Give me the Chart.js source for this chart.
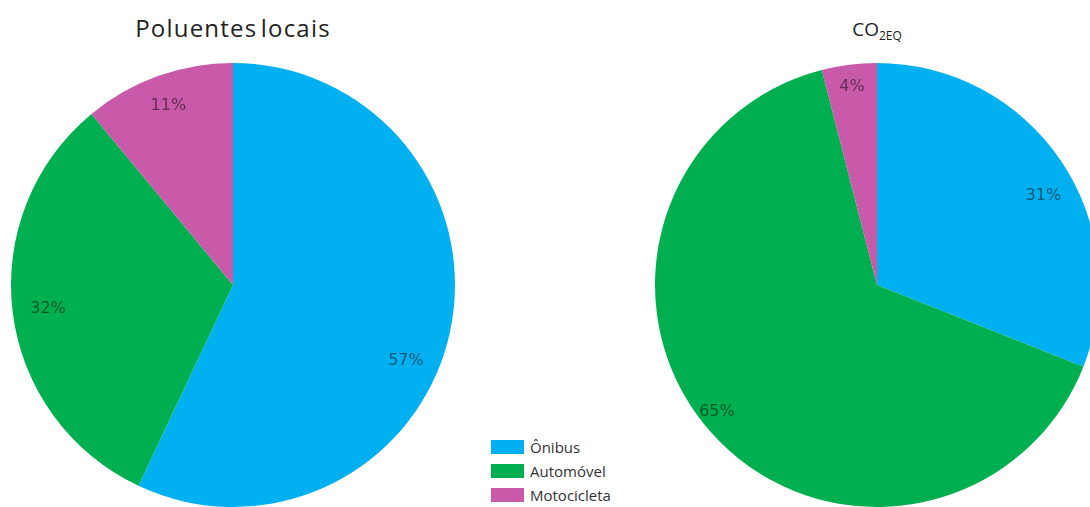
<!DOCTYPE html>
<html>
<head>
<meta charset="utf-8">
<script src="https://cdn.jsdelivr.net/npm/chart.js@4"></script>
<style>
  html, body { margin: 0; padding: 0; background: #fff; width: 1090px; height: 507px; overflow: hidden; }
  .title { position: absolute; color: #222; font-family: "Open Sans", sans-serif; text-align: center; white-space: nowrap; }
  #t1 { left: 83px; width: 300px; top: 11px; font-size: 24px; letter-spacing: 1.2px; word-spacing: -4px; }
  #t2 { left: 777px; width: 200px; top: 16px; font-size: 19px; }
  #t2 sub { font-size: 12px; vertical-align: -4px; }
  canvas { position: absolute; }
  #c1 { left: 11px; top: 63px; }
  #c2 { left: 655px; top: 63px; }
  #legend { position: absolute; left: 491px; top: 435px; font-family: "Liberation Sans Narrow", "Open Sans", sans-serif; font-size: 15px; color: #333; }
  .item { height: 24px; display: flex; align-items: center; }
  .box { width: 33px; height: 14px; margin-right: 6px; }
</style>
</head>
<body>
<div class="title" id="t1">Poluentes locais</div>
<div class="title" id="t2">CO<sub>2EQ</sub></div>
<canvas id="c1" width="444" height="444"></canvas>
<canvas id="c2" width="444" height="444"></canvas>
<div id="legend"></div>
<script>
const categories = ['Ônibus', 'Automóvel', 'Motocicleta'];
const poluentesLocais = [57, 32, 11];
const co2eq = [31, 65, 4];
const sliceColors = ['#00b0f0', '#00b050', '#c95aaa'];

// percent labels inside the slices
// placement: [angle nudge in degrees, radius fraction] per slice
const pctLabels = {
  id: 'pctLabels',
  afterDatasetsDraw(chart, args, opts) {
    const ctx = chart.ctx;
    const meta = chart.getDatasetMeta(0);
    const values = chart.data.datasets[0].data;
    const place = opts.place || [];
    ctx.save();
    ctx.font = '16px "DejaVu Sans", sans-serif';
    ctx.fillStyle = 'rgba(0, 0, 0, 0.52)';
    ctx.textAlign = 'center';
    ctx.textBaseline = 'middle';
    meta.data.forEach((arc, i) => {
      const p = arc.getProps(['x', 'y', 'startAngle', 'endAngle', 'outerRadius'], true);
      const adj = place[i] || [0, 0.86];
      const mid = (p.startAngle + p.endAngle) / 2 + adj[0] * Math.PI / 180;
      const r = p.outerRadius * adj[1];
      ctx.fillText(values[i] + '%', p.x + Math.cos(mid) * r, p.y + Math.sin(mid) * r);
    });
    ctx.restore();
  }
};

function drawPie(id, values, place) {
  const ctx = document.getElementById(id).getContext('2d');
  return new Chart(ctx, {
    type: 'pie',
    data: {
      labels: categories,
      datasets: [{
        data: values,
        backgroundColor: sliceColors,
        borderWidth: 0
      }]
    },
    options: {
      responsive: false,
      animation: false,
      layout: { padding: 0 },
      plugins: {
        legend: { display: false },
        tooltip: { enabled: false },
        pctLabels: { place: place }
      }
    },
    plugins: [pctLabels]
  });
}

drawPie('c1', poluentesLocais, [[11, 0.85], [0, 0.84], [0, 0.86]]);
drawPie('c2', co2eq, [[6, 0.85], [3, 0.92], [0, 0.9]]);

const legend = document.getElementById('legend');
categories.forEach((name, i) => {
  const item = document.createElement('div');
  item.className = 'item';
  item.innerHTML = '<span class="box" style="background:' + sliceColors[i] + '"></span>' + name;
  legend.appendChild(item);
});
</script>
</body>
</html>
